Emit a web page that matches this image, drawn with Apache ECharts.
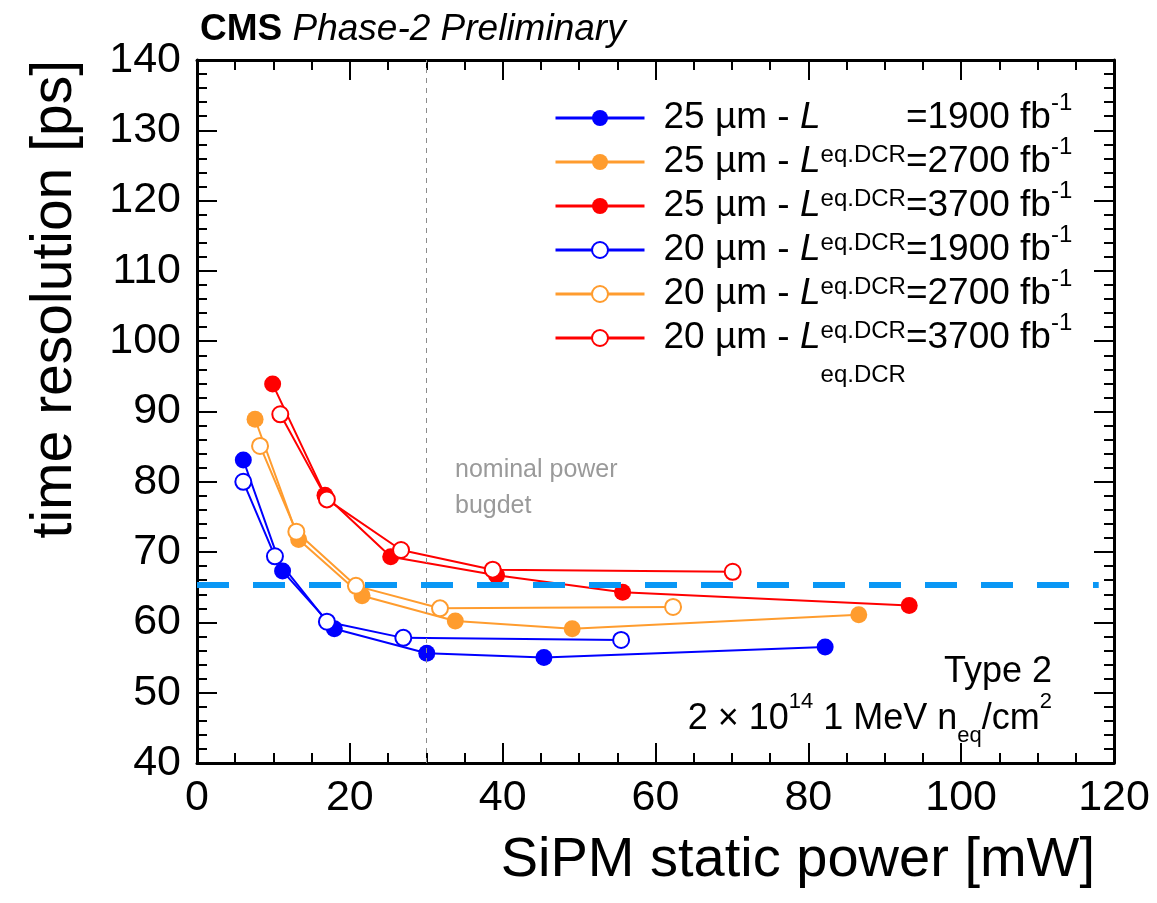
<!DOCTYPE html>
<html>
<head>
<meta charset="utf-8">
<script src="https://cdn.jsdelivr.net/npm/echarts@6/dist/echarts.min.js"></script>
<style>
  html, body { margin: 0; padding: 0; background: #fff; }
  #main { width: 1157px; height: 903px; }
</style>
</head>
<body>
<div id="main"></div>
<script>
// values (x = SiPM static power [mW], y = time resolution [ps])
const x25_1900 = [6.06, 11.2, 17.97, 30.07, 45.4, 82.2];
const y25_1900 = [83.1, 67.3, 59.1, 55.6, 55.0, 56.5];
const x25_2700 = [7.6, 13.3, 21.6, 33.8, 49.1, 86.6];
const y25_2700 = [88.9, 71.8, 63.8, 60.2, 59.1, 61.1];
const x25_3700 = [9.9, 16.75, 25.35, 39.2, 55.7, 93.2];
const y25_3700 = [93.9, 78.1, 69.35, 66.7, 64.3, 62.4];
const x20_1900 = [6.06, 10.2, 17.0, 27.0, 55.5];
const y20_1900 = [80.0, 69.4, 60.1, 57.8, 57.5];
const x20_2700 = [8.25, 13.0, 20.8, 31.8, 62.3];
const y20_2700 = [85.1, 72.9, 65.2, 62.0, 62.2];
const x20_3700 = [10.9, 17.0, 26.7, 38.7, 70.1];
const y20_3700 = [89.6, 77.5, 70.3, 67.5, 67.2];

const pitches = ['25', '25', '25', '20', '20', '20'];
const lumis = ['1900', '2700', '3700', '1900', '2700', '3700'];
const colors = ['#0000ff', '#ff9c2e', '#ff0000', '#0000ff', '#ff9c2e', '#ff0000'];

const nominalPower = 30;     // vertical dashed line
const targetResolution = 65.4; // horizontal blue dashed line

const font = "'Liberation Sans', Arial, Helvetica, sans-serif";

const xs = [x25_1900, x25_2700, x25_3700, x20_1900, x20_2700, x20_3700];
const ys = [y25_1900, y25_2700, y25_3700, y20_1900, y20_2700, y20_3700];

const names = pitches.map((p, i) => p + ' µm - L=' + lumis[i]);
const legendText = {};
names.forEach((n, i) => {
  legendText[n] = '{m|' + pitches[i] + ' µm - }{i|L}{s|eq.DCR}{m|=' + lumis[i] + ' fb}{p|-1}';
});

const series = names.map((name, i) => {
  const hollow = pitches[i] === '20';
  return {
    name: name,
    type: 'line',
    data: xs[i].map((x, k) => [x, ys[i][k]]),
    symbol: hollow ? 'emptyCircle' : 'circle',
    symbolSize: hollow ? 16 : 17,
    showAllSymbol: true,
    lineStyle: { color: colors[i], width: 2 },
    itemStyle: { color: colors[i], borderColor: colors[i], borderWidth: hollow ? 2 : 0 },
    emphasis: { disabled: true },
    animation: false
  };
});

// reference lines hang on the first series
series[0].markLine = {
  silent: true,
  symbol: 'none',
  animation: false,
  label: { show: false },
  data: [
    { xAxis: nominalPower, lineStyle: { color: '#8c8c8c', width: 1, type: [5, 5] } },
    [
      { coord: [0, targetResolution], lineStyle: { color: '#0a97f5', width: 6, type: [32, 24] } },
      { coord: [118, targetResolution] }
    ]
  ]
};

const tickStyle = { color: '#000', width: 2 };
function frameAxis(extra) {
  return Object.assign({
    type: 'value',
    axisLine: { show: true, onZero: false, lineStyle: { color: '#000', width: 3 } },
    axisTick: { show: true, inside: true, length: 20, lineStyle: tickStyle },
    minorTick: { show: true, length: 10, lineStyle: tickStyle },
    splitLine: { show: false },
    minorSplitLine: { show: false }
  }, extra);
}

const myChart = echarts.init(document.getElementById('main'), null, { renderer: 'canvas' });
myChart.setOption({
  backgroundColor: '#fff',
  animation: false,
  title: {
    text: '{b|CMS}{i| Phase-2 Preliminary}',
    left: 200,
    top: 11,
    padding: 0,
    textStyle: {
      fontWeight: 'normal',
      rich: {
        b: { fontSize: 37, fontWeight: 'bold', fontFamily: font, color: '#000' },
        i: { fontSize: 37, fontWeight: 'normal', fontStyle: 'italic', fontFamily: font, color: '#000' }
      }
    }
  },
  grid: { left: 197, right: 43, top: 60, bottom: 140, containLabel: false, outerBoundsMode: 'none' },
  xAxis: [
    frameAxis({
      min: 0, max: 120, interval: 20, position: 'bottom',
      minorTick: { show: true, splitNumber: 4, length: 10, lineStyle: tickStyle },
      axisLabel: { fontSize: 43, color: '#000', fontFamily: font, margin: 14 },
      name: 'SiPM static power [mW]',
      nameLocation: 'end',
      nameGap: -19,
      nameMoveOverlap: false,
      nameTextStyle: { fontSize: 56, color: '#000', fontFamily: font, align: 'right', verticalAlign: 'top', padding: [70, 0, 0, 0] }
    }),
    frameAxis({
      min: 0, max: 120, interval: 20, position: 'top',
      minorTick: { show: true, splitNumber: 4, length: 10, lineStyle: tickStyle },
      axisLabel: { show: false }
    })
  ],
  yAxis: [
    frameAxis({
      min: 40, max: 140, interval: 10, position: 'left',
      minorTick: { show: true, splitNumber: 5, length: 10, lineStyle: tickStyle },
      axisLabel: { fontSize: 43, color: '#000', fontFamily: font, margin: 16 },
      name: 'time resolution [ps]',
      nameLocation: 'end',
      nameGap: 0,
      nameRotate: 90,
      nameMoveOverlap: false,
      nameTextStyle: { fontSize: 57, color: '#000', fontFamily: font, align: 'right', verticalAlign: 'bottom', padding: [0, 0, 113, 0] }
    }),
    frameAxis({
      min: 40, max: 140, interval: 10, position: 'right',
      minorTick: { show: true, splitNumber: 5, length: 10, lineStyle: tickStyle },
      axisLabel: { show: false }
    })
  ],
  legend: {
    data: names,
    orient: 'vertical',
    left: 554,
    top: 69,
    padding: 0,
    itemGap: -54,
    itemWidth: 89,
    itemHeight: 20,
    selectedMode: false,
    lineStyle: { width: 3 },
    formatter: name => legendText[name],
    textStyle: {
      color: '#000',
      fontFamily: font,
      fontSize: 37,
      padding: [0, 0, 0, 14],
      rich: {
        m: { fontSize: 37, lineHeight: 98, fontFamily: font, color: '#000' },
        i: { fontSize: 37, lineHeight: 98, fontStyle: 'italic', fontFamily: font, color: '#000' },
        s: { fontSize: 24, lineHeight: 24, verticalAlign: 'bottom', fontFamily: font, color: '#000' },
        p: { fontSize: 24, lineHeight: 70, verticalAlign: 'top', padding: [22, 0, 0, 0], fontFamily: font, color: '#000' }
      }
    }
  },
  graphic: [
    {
      type: 'text', x: 455, y: 452, silent: true,
      style: { text: 'nominal power\nbugdet', fontSize: 25, lineHeight: 36, fontFamily: font, fill: '#9a9a9a', verticalAlign: 'top' }
    },
    {
      type: 'text', x: 1052, y: 672, silent: true,
      style: { text: 'Type 2', fontSize: 36, fontFamily: font, fill: '#000', align: 'right', verticalAlign: 'middle' }
    },
    {
      type: 'text', x: 1052, y: 719, silent: true,
      style: {
        text: '{m|2 × 10}{p|14}{m| 1 MeV n}{s|eq}{m|/cm}{p|2}',
        align: 'right', verticalAlign: 'middle',
        rich: {
          m: { fontSize: 36, lineHeight: 56, fontFamily: font, fill: '#000' },
          p: { fontSize: 22, lineHeight: 32, verticalAlign: 'top', fontFamily: font, fill: '#000' },
          s: { fontSize: 22, lineHeight: 26, verticalAlign: 'bottom', fontFamily: font, fill: '#000' }
        }
      }
    }
  ],
  series: series
});
</script>
</body>
</html>
